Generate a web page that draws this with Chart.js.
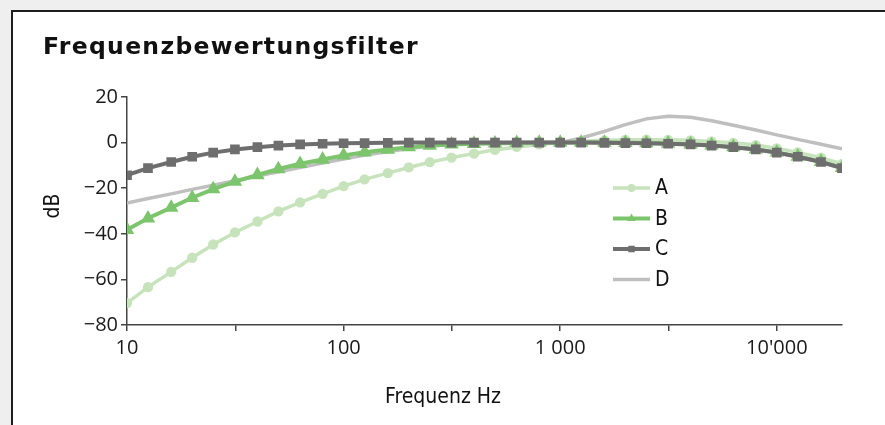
<!DOCTYPE html>
<html>
<head>
<meta charset="utf-8">
<script src="https://cdn.jsdelivr.net/npm/chart.js@4.4.1/dist/chart.umd.min.js"></script>
<style>
  html, body { margin: 0; padding: 0; background: #efefef; }
  body { width: 885px; height: 425px; position: relative; overflow: hidden; }
  #panel {
    position: absolute; left: 11px; top: 10px; right: -20px; bottom: -20px;
    background: #fff; border: 2px solid #1e1e1e;
  }
  #myChart { position: absolute; left: 0; top: 0; }
</style>
</head>
<body>
<div id="panel"></div>
<canvas id="myChart" width="885" height="425"></canvas>
<script>
// third-octave band centre frequencies, Hz
const freqs = [10, 12.5, 16, 20, 25, 31.5, 40, 50, 63, 80, 100, 125, 160, 200, 250, 315, 400, 500,
  630, 800, 1000, 1250, 1600, 2000, 2500, 3150, 4000, 5000, 6300, 8000, 10000, 12500, 16000, 20000]

const weightA = [-70.4, -63.4, -56.7, -50.5, -44.7, -39.4, -34.6, -30.2, -26.2, -22.5, -19.1, -16.1,
  -13.4, -10.9, -8.6, -6.6, -4.8, -3.2, -1.9, -0.8, 0, 0.6, 1.0, 1.2, 1.3, 1.2, 1.0, 0.5, -0.1,
  -1.1, -2.5, -4.3, -6.6, -9.3]
const weightB = [-38.2, -33.2, -28.5, -24.2, -20.4, -17.1, -14.2, -11.6, -9.3, -7.4, -5.6, -4.2,
  -3.0, -2.0, -1.3, -0.8, -0.5, -0.3, -0.1, 0, 0, 0, 0, -0.1, -0.2, -0.4, -0.7, -1.2, -1.9,
  -2.9, -4.3, -6.1, -8.4, -11.1]
const weightC = [-14.3, -11.2, -8.5, -6.2, -4.4, -3.0, -2.0, -1.3, -0.8, -0.5, -0.3, -0.2, -0.1,
  0, 0, 0, 0, 0, 0, 0, 0, 0, -0.1, -0.2, -0.3, -0.5, -0.8, -1.3, -2.0, -3.0, -4.4, -6.2, -8.5, -11.2]
const weightD = [-26.5, -24.5, -22.5, -20.5, -18.7, -16.7, -14.7, -12.8, -10.9, -9.0, -7.2, -5.5,
  -4.0, -2.6, -1.6, -0.8, -0.4, -0.3, -0.5, -0.6, 0, 2.0, 4.9, 7.9, 10.4, 11.6, 11.1, 9.6, 7.6,
  5.5, 3.4, 1.4, -0.7, -2.7]

const seriesNames = ['A', 'B', 'C', 'D']
const xTickValues = [10, 31.62, 100, 316.2, 1000, 3162, 10000]
const xTickLabels = {10: '10', 100: '100', 1000: '1 000', 10000: "10'000"}

const narrow = '"DejaVu Sans Condensed", "Liberation Sans", sans-serif'
const tickFont = { family: '"Open Sans", sans-serif', size: 20 }

const toPoints = (vals) => freqs.map((f, i) => ({ x: f, y: vals[i] }))

const datasets = [
  { label: seriesNames[0], data: toPoints(weightA), borderColor: '#c6e3bc', backgroundColor: '#c6e3bc',
    borderWidth: 3.5, pointStyle: 'circle', pointRadius: 3.4, order: 3 },
  { label: seriesNames[1], data: toPoints(weightB), borderColor: '#7cc56c', backgroundColor: '#7cc56c',
    borderWidth: 4, pointStyle: 'triangle', pointRadius: 4.4, order: 2 },
  { label: seriesNames[2], data: toPoints(weightC), borderColor: '#6e6e6e', backgroundColor: '#6e6e6e',
    borderWidth: 4, pointStyle: 'rect', pointRadius: 4, order: 1 },
  { label: seriesNames[3], data: toPoints(weightD), borderColor: '#bfbfbf', backgroundColor: '#bfbfbf',
    borderWidth: 3.5, pointRadius: 0, order: 4 },
]

// title, legend inside the plot and the two axis titles
const extras = {
  id: 'extras',
  afterDraw(chart) {
    const ctx = chart.ctx
    ctx.save()
    ctx.fillStyle = '#111'
    ctx.font = 'bold 23.5px "DejaVu Sans", sans-serif'
    ctx.letterSpacing = '1.3px'
    ctx.textBaseline = 'middle'
    ctx.fillText('Frequenzbewertungsfilter', 43, 48)
    ctx.letterSpacing = '0px'

    chart.data.datasets.forEach((ds, i) => {
      const y = 188 + i * 30.5
      ctx.strokeStyle = ds.borderColor
      ctx.lineWidth = ds.borderWidth
      ctx.beginPath()
      ctx.moveTo(613, y)
      ctx.lineTo(650, y)
      ctx.stroke()
      if (ds.pointRadius > 0) {
        ctx.fillStyle = ds.backgroundColor
        Chart.helpers.drawPoint(ctx, { pointStyle: ds.pointStyle, radius: ds.pointRadius + 0.6, borderWidth: 0 }, 631.5, y)
      }
      ctx.fillStyle = '#111'
      ctx.font = '21px ' + narrow
      ctx.textAlign = 'left'
      ctx.fillText(ds.label, 655, y + 1)
    })
    ctx.font = '21px ' + narrow
    ctx.textAlign = 'center'
    ctx.fillText('Frequenz Hz', 443, 398)
    ctx.translate(54, 206)
    ctx.rotate(-Math.PI / 2)
    ctx.fillText('dB', 0, 0)
    ctx.restore()
  }
}

const config = {
  type: 'line',
  data: { datasets },
  plugins: [extras],
  options: {
    responsive: false,
    animation: false,
    elements: { point: { borderWidth: 0 } },
    layout: { padding: { left: 43, right: 43, top: 97, bottom: 0 } },
    plugins: {
      legend: { display: false },
      tooltip: { enabled: false },
      title: { display: false }
    },
    scales: {
      x: {
        type: 'logarithmic',
        min: 10,
        max: 20000,
        afterBuildTicks: (axis) => { axis.ticks = xTickValues.map(v => ({ value: v })) },
        afterFit: (axis) => { axis.height = 100 },
        grid: { drawOnChartArea: false, tickLength: 6, color: '#444', lineWidth: 1.5 },
        border: { color: '#444', width: 1.5 },
        ticks: {
          autoSkip: false, maxRotation: 0, padding: 5, color: '#1a1a1a', font: tickFont,
          callback: (v) => xTickLabels[v] || ''
        }
      },
      y: {
        min: -80,
        max: 20,
        afterFit: (axis) => { axis.width = 84 },
        grid: { drawOnChartArea: false, tickLength: 6, color: '#444', lineWidth: 1.5 },
        border: { color: '#444', width: 1.5 },
        ticks: {
          stepSize: 20, padding: 3, color: '#1a1a1a', font: tickFont,
          callback: (v) => String(v).replace('-', '\u2212')
        }
      }
    }
  }
}

new Chart(document.getElementById('myChart').getContext('2d'), config)
</script>
</body>
</html>
